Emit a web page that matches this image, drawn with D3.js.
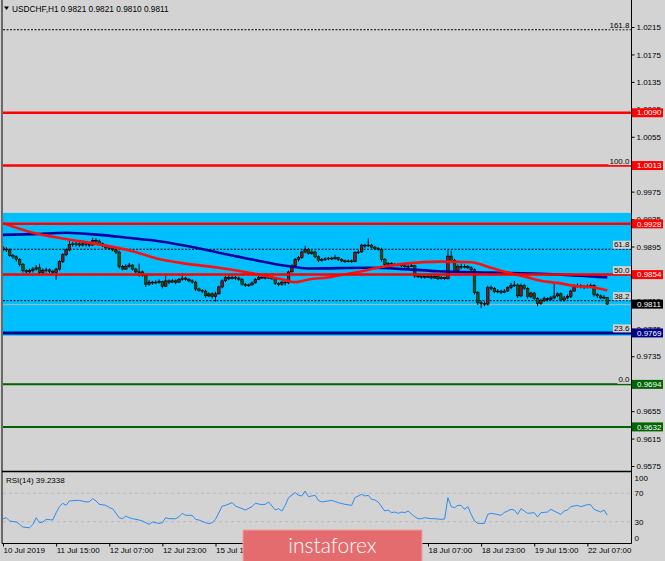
<!DOCTYPE html>
<html>
<head>
<meta charset="utf-8">
<script src="https://cdn.jsdelivr.net/npm/d3@7"></script>
<style>
	body { margin: 0; background: #d3d3d3; }
	svg { display: block; font-family: "Liberation Sans", Arial, sans-serif; }
</style>
</head>
<body>
<div id="chart"></div>
<script>

// USDCHF H1 candles, bar 0 = 10 Jul 23:00
var opens = [
	0.9893,0.9891,0.9890,0.9882,0.9880,0.9876,0.9869,0.9860,0.9858,0.9860,
	0.9862,0.9864,0.9857,0.9860,0.9861,0.9859,0.9857,0.9862,0.9873,0.9883,
	0.9890,0.9898,0.9899,0.9899,0.9897,0.9899,0.9898,0.9897,0.9904,0.9903,
	0.9899,0.9896,0.9893,0.9892,0.9890,0.9887,0.9866,0.9862,0.9866,0.9868,
	0.9862,0.9858,0.9858,0.9853,0.9840,0.9843,0.9842,0.9843,0.9844,0.9837,
	0.9845,0.9843,0.9845,0.9843,0.9847,0.9849,0.9847,0.9845,0.9843,0.9833,
	0.9831,0.9830,0.9823,0.9826,0.9822,0.9826,0.9836,0.9845,0.9850,0.9848,
	0.9850,0.9849,0.9847,0.9840,0.9838,0.9839,0.9842,0.9847,0.9850,0.9850,
	0.9849,0.9850,0.9848,0.9841,0.9840,0.9843,0.9842,0.9858,0.9867,0.9876,
	0.9879,0.9887,0.9891,0.9885,0.9887,0.9880,0.9875,0.9876,0.9877,0.9878,
	0.9877,0.9879,0.9876,0.9874,0.9873,0.9874,0.9873,0.9886,0.9887,0.9897,
	0.9896,0.9897,0.9894,0.9892,0.9891,0.9876,0.9869,0.9870,0.9869,0.9869,
	0.9868,0.9867,0.9866,0.9866,0.9867,0.9852,0.9851,0.9850,0.9851,0.9851,
	0.9849,0.9851,0.9848,0.9850,0.9848,0.9881,0.9875,0.9860,0.9866,0.9865,
	0.9866,0.9864,0.9861,0.9828,0.9813,0.9812,0.9811,0.9835,0.9834,0.9829,
	0.9830,0.9828,0.9830,0.9835,0.9838,0.9839,0.9823,0.9838,0.9834,0.9822,
	0.9827,0.9819,0.9812,0.9816,0.9819,0.9818,0.9820,0.9823,0.9826,0.9817,
	0.9820,0.9822,0.9830,0.9837,0.9838,0.9837,0.9836,0.9837,0.9838,0.9825,
	0.9823,0.9820,0.9821
];
var highs = [
	0.9896,0.9894,0.9892,0.9884,0.9882,0.9878,0.9871,0.9862,0.9863,0.9865,
	0.9868,0.9870,0.9863,0.9864,0.9863,0.9861,0.9864,0.9875,0.9885,0.9892,
	0.9905,0.9902,0.9902,0.9901,0.9902,0.9901,0.9900,0.9908,0.9907,0.9905,
	0.9901,0.9898,0.9896,0.9894,0.9892,0.9889,0.9868,0.9869,0.9871,0.9869,
	0.9864,0.9870,0.9860,0.9855,0.9846,0.9845,0.9846,0.9847,0.9845,0.9852,
	0.9847,0.9848,0.9847,0.9849,0.9853,0.9851,0.9849,0.9847,0.9845,0.9835,
	0.9833,0.9832,0.9828,0.9828,0.9829,0.9838,0.9847,0.9852,0.9853,0.9853,
	0.9852,0.9851,0.9849,0.9842,0.9841,0.9844,0.9849,0.9852,0.9853,0.9852,
	0.9853,0.9852,0.9850,0.9843,0.9845,0.9845,0.9860,0.9869,0.9878,0.9881,
	0.9889,0.9896,0.9893,0.9890,0.9889,0.9882,0.9878,0.9879,0.9880,0.9880,
	0.9883,0.9880,0.9878,0.9876,0.9876,0.9876,0.9888,0.9890,0.9899,0.9899,
	0.9907,0.9899,0.9896,0.9894,0.9893,0.9878,0.9872,0.9872,0.9871,0.9871,
	0.9870,0.9869,0.9869,0.9870,0.9868,0.9854,0.9853,0.9853,0.9854,0.9853,
	0.9853,0.9853,0.9852,0.9851,0.9890,0.9889,0.9877,0.9869,0.9870,0.9869,
	0.9868,0.9866,0.9863,0.9830,0.9816,0.9815,0.9838,0.9838,0.9836,0.9833,
	0.9832,0.9833,0.9837,0.9842,0.9845,0.9841,0.9841,0.9840,0.9836,0.9829,
	0.9829,0.9821,0.9819,0.9822,0.9821,0.9823,0.9842,0.9828,0.9828,0.9823,
	0.9825,0.9832,0.9840,0.9841,0.9840,0.9839,0.9840,0.9841,0.9840,0.9827,
	0.9825,0.9824,0.9821
];
var lows = [
	0.9888,0.9887,0.9880,0.9877,0.9873,0.9866,0.9857,0.9855,0.9856,0.9857,
	0.9860,0.9855,0.9855,0.9857,0.9856,0.9854,0.9846,0.9860,0.9871,0.9881,
	0.9888,0.9895,0.9895,0.9894,0.9895,0.9895,0.9894,0.9896,0.9900,0.9897,
	0.9894,0.9891,0.9890,0.9888,0.9884,0.9863,0.9860,0.9861,0.9864,0.9860,
	0.9856,0.9851,0.9851,0.9836,0.9838,0.9839,0.9840,0.9841,0.9834,0.9836,
	0.9840,0.9842,0.9840,0.9842,0.9845,0.9845,0.9843,0.9841,0.9830,0.9829,
	0.9827,0.9820,0.9821,0.9819,0.9815,0.9825,0.9834,0.9843,0.9846,0.9847,
	0.9846,0.9845,0.9838,0.9836,0.9836,0.9838,0.9841,0.9846,0.9848,0.9847,
	0.9848,0.9846,0.9839,0.9837,0.9838,0.9838,0.9840,0.9857,0.9865,0.9873,
	0.9877,0.9885,0.9883,0.9883,0.9878,0.9872,0.9873,0.9874,0.9875,0.9875,
	0.9876,0.9874,0.9872,0.9871,0.9872,0.9871,0.9872,0.9884,0.9886,0.9893,
	0.9894,0.9892,0.9890,0.9889,0.9873,0.9866,0.9867,0.9867,0.9867,0.9866,
	0.9865,0.9864,0.9864,0.9865,0.9849,0.9849,0.9848,0.9848,0.9849,0.9847,
	0.9848,0.9846,0.9847,0.9846,0.9847,0.9872,0.9858,0.9858,0.9862,0.9863,
	0.9862,0.9858,0.9825,0.9810,0.9805,0.9808,0.9809,0.9831,0.9827,0.9827,
	0.9826,0.9827,0.9829,0.9833,0.9836,0.9820,0.9821,0.9832,0.9819,0.9820,
	0.9817,0.9808,0.9810,0.9814,0.9815,0.9816,0.9818,0.9821,0.9815,0.9815,
	0.9818,0.9820,0.9829,0.9835,0.9834,0.9833,0.9834,0.9835,0.9822,0.9820,
	0.9818,0.9818,0.9810
];
var closes = [
	0.9891,0.9890,0.9882,0.9880,0.9876,0.9869,0.9860,0.9858,0.9860,0.9862,
	0.9864,0.9857,0.9860,0.9861,0.9859,0.9857,0.9862,0.9873,0.9883,0.9890,
	0.9898,0.9899,0.9899,0.9897,0.9899,0.9898,0.9897,0.9904,0.9903,0.9899,
	0.9896,0.9893,0.9892,0.9890,0.9887,0.9866,0.9862,0.9866,0.9868,0.9862,
	0.9858,0.9858,0.9853,0.9840,0.9843,0.9842,0.9843,0.9844,0.9837,0.9845,
	0.9843,0.9845,0.9843,0.9847,0.9849,0.9847,0.9845,0.9843,0.9833,0.9831,
	0.9830,0.9823,0.9826,0.9822,0.9826,0.9836,0.9845,0.9850,0.9848,0.9850,
	0.9849,0.9847,0.9840,0.9838,0.9839,0.9842,0.9847,0.9850,0.9850,0.9849,
	0.9850,0.9848,0.9841,0.9840,0.9843,0.9842,0.9858,0.9867,0.9876,0.9879,
	0.9887,0.9891,0.9885,0.9887,0.9880,0.9875,0.9876,0.9877,0.9878,0.9877,
	0.9879,0.9876,0.9874,0.9873,0.9874,0.9873,0.9886,0.9887,0.9897,0.9896,
	0.9897,0.9894,0.9892,0.9891,0.9876,0.9869,0.9870,0.9869,0.9869,0.9868,
	0.9867,0.9866,0.9866,0.9867,0.9852,0.9851,0.9850,0.9851,0.9851,0.9849,
	0.9851,0.9848,0.9850,0.9848,0.9881,0.9875,0.9860,0.9866,0.9865,0.9866,
	0.9864,0.9861,0.9828,0.9813,0.9812,0.9811,0.9835,0.9834,0.9829,0.9830,
	0.9828,0.9830,0.9835,0.9838,0.9839,0.9823,0.9838,0.9834,0.9822,0.9827,
	0.9819,0.9812,0.9816,0.9819,0.9818,0.9820,0.9823,0.9826,0.9817,0.9820,
	0.9822,0.9830,0.9837,0.9838,0.9837,0.9836,0.9837,0.9838,0.9825,0.9823,
	0.9820,0.9821,0.9811
];

// moving averages, read at some bars
var maFastBars = [0, 9, 19, 29, 39, 46, 55, 65, 75, 85, 88, 92, 98, 106, 114, 121, 132, 141, 147, 152, 158, 162, 167, 173, 177, 182];
var maFastValues = [0.9929, 0.9915, 0.9906, 0.9898, 0.9888, 0.9878, 0.9870, 0.9864, 0.9856, 0.9846, 0.9843, 0.9847, 0.9850, 0.9857, 0.9865, 0.9870, 0.9873, 0.9872, 0.9864, 0.9857, 0.9850, 0.9845, 0.9842, 0.9837, 0.9836, 0.9831];
var maSlowBars = [0, 9, 19, 29, 39, 45, 55, 65, 75, 85, 92, 110, 121, 131, 147, 164, 175, 182];
var maSlowValues = [0.9912, 0.9913, 0.9915, 0.9912, 0.9907, 0.9904, 0.9896, 0.9886, 0.9876, 0.9867, 0.9863, 0.9864, 0.9862, 0.9859, 0.9857, 0.9855, 0.9852, 0.9850];

// RSI(14)
var rsiBars = [
	0,1,2,4,5,6,8,9,10,11, 12,13,15,16,17,18,19,20,22,23,
	25,26,27,28,29,31,32,33,35,36, 37,38,39,41,42,44,45,47,48,49,
	50,52,53,54,55,57,58,59,61,62, 63,64,66,67,69,70,72,73,75,76,
	78,79,80,82,83,84,85,86,88,89, 90,91,92,94,95,96,99,101,103,105,
	106,107,108,109,110,111,112,113,115,116, 117,118,119,120,121,122,124,125,126,127,
	129,130,132,133,134,135,136,137,138,139, 140,141,142,143,145,146,147,148,150,151,
	152,153,154,155,156,157,158,160,161,162, 164,165,166,168,169,170,171,173,174,176,
	177,178,180,181,182
];
var rsiValues = [
	34.2,35.6,31.0,29.5,26.2,22.5,21.5,26.0,35.6,28.6, 29.5,33.3,32.4,42.7,51.2,55.9,53.0,59.2,60.0,60.0,
	57.8,58.2,62.5,59.2,54.5,53.0,49.8,48.4,35.6,34.2, 38.0,35.6,34.2,32.4,31.0,26.2,29.5,27.6,28.6,35.6,
	34.2,34.2,37.0,41.8,39.0,39.0,33.3,32.4,28.6,27.2, 28.6,33.3,52.0,53.0,56.8,52.0,48.4,46.5,51.2,55.9,
	54.0,54.5,57.8,46.5,48.4,45.0,53.0,63.9,71.0,67.2, 66.2,73.3,65.3,67.2,60.0,57.8,60.0,56.8,54.5,53.0,
	63.9,66.2,68.6,66.2,67.2,61.5,60.6,57.8,45.0,46.5, 42.7,43.6,41.8,43.6,42.7,45.0,37.0,34.2,34.2,35.6,
	34.2,34.2,33.3,33.8,63.9,51.2,49.8,53.0,53.0,47.4, 51.2,40.4,31.0,27.6,27.6,40.4,41.8,41.0,39.0,43.0,
	45.0,47.4,46.5,40.4,48.4,45.0,41.8,42.7,36.6,42.7, 43.6,47.4,45.0,40.4,45.0,46.5,51.2,53.0,51.2,54.0,
	54.0,47.4,43.6,46.5,39.2
];

var timeBars = [0, 16, 32, 48, 64, 80, 96, 112, 128, 144, 160, 176];
var timeLabels = ["10 Jul 2019", "11 Jul 15:00", "12 Jul 07:00", "12 Jul 23:00", "15 Jul 15:00", "16 Jul 07:00",
	"16 Jul 23:00", "17 Jul 15:00", "18 Jul 07:00", "18 Jul 23:00", "19 Jul 15:00", "22 Jul 07:00"];

var priceTicks = [1.0215, 1.0175, 1.0135, 1.0095, 1.0055, 1.0015, 0.9975, 0.9935, 0.9895,
	0.9855, 0.9815, 0.9775, 0.9735, 0.9695, 0.9655, 0.9615, 0.9575];
var rsiTicks = [100, 70, 30, 0];
var rsiLevels = [70, 30];

var levelPrices = [1.0090, 1.0013, 0.9928, 0.9854, 0.9769, 0.9694, 0.9632];
var levelKinds = ["resistance", "resistance", "resistance", "resistance", "pivot", "support", "support"];

var fibLabels = ["161.8", "100.0", "61.8", "50.0", "38.2", "23.6", "0.0"];
var fibPrices = [1.0211, 1.0013, 0.9891, 0.9854, 0.9816, 0.9769, 0.9694];

var bandRange = [0.9765, 0.9944];
var lastPrice = 0.9811;
var headerText = "USDCHF,H1  0.9821 0.9821 0.9810 0.9811";
var rsiText = "RSI(14) 39.2338";


var levelStyle = {
	resistance: {color: "#ff0000", width: 2.5},
	pivot: {color: "#00008b", width: 3},
	support: {color: "#006400", width: 2}
};

var W = 665, H = 561,
	left = 3, right = 631.5,
	mainBottom = 471.5, rsiTop = 472, rsiBottom = 543.5;

var x = d3.scaleLinear().domain([0, closes.length - 1]).range([3, 607.3]);
var y = d3.scaleLinear().domain([0.9575, 1.0215]).range([466, 27]);
var yRsi = d3.scaleLinear().domain([0, 100]).range([543, 472]);

var svg = d3.select("#chart").append("svg")
	.attr("width", W)
	.attr("height", H);

svg.append("rect").attr("width", W).attr("height", H).attr("fill", "#d3d3d3");

svg.append("clipPath").attr("id", "clip-main")
	.append("rect").attr("x", left).attr("y", 0).attr("width", right - left).attr("height", mainBottom);
svg.append("clipPath").attr("id", "clip-rsi")
	.append("rect").attr("x", left).attr("y", rsiTop).attr("width", right - left).attr("height", rsiBottom - rsiTop);

var main = svg.append("g").attr("clip-path", "url(#clip-main)");

// cyan zone
main.append("rect")
	.attr("x", left)
	.attr("width", right - left)
	.attr("y", y(bandRange[1]))
	.attr("height", y(bandRange[0]) - y(bandRange[1]))
	.attr("fill", "#00bfff");

// fibo dotted levels
main.selectAll(".fib")
	.data(fibPrices)
	.enter().append("line")
		.attr("x1", left).attr("x2", right)
		.attr("y1", function(d) { return y(d); })
		.attr("y2", function(d) { return y(d); })
		.attr("stroke", "#000")
		.attr("stroke-width", 1)
		.attr("stroke-dasharray", "2,1.5");

// bid line
main.append("line")
	.attr("x1", left).attr("x2", right)
	.attr("y1", y(lastPrice) + 0.5).attr("y2", y(lastPrice) + 0.5)
	.attr("stroke", "#b4b4b4");

// candles
var candle = main.selectAll(".candle")
	.data(closes)
	.enter().append("g");

candle.append("line")
	.attr("x1", function(d, i) { return x(i); })
	.attr("x2", function(d, i) { return x(i); })
	.attr("y1", function(d, i) { return y(highs[i]); })
	.attr("y2", function(d, i) { return y(lows[i]); })
	.attr("stroke", "#000")
	.attr("stroke-width", 1);

candle.append("rect")
	.attr("x", function(d, i) { return x(i) - 1.3; })
	.attr("width", 2.6)
	.attr("y", function(d, i) { return y(Math.max(opens[i], d)); })
	.attr("height", function(d, i) { return Math.max(0.8, Math.abs(y(opens[i]) - y(d))); })
	.attr("fill", function(d, i) { return d >= opens[i] ? "#8e1212" : "#075a16"; })
	.attr("stroke", "#000")
	.attr("stroke-width", 0.6);

// moving averages
var maLine = d3.line()
	.x(function(d) { return x(d[0]); })
	.y(function(d) { return y(d[1]); })
	.curve(d3.curveMonotoneX);

main.append("path")
	.attr("d", maLine(d3.zip(maSlowBars, maSlowValues)))
	.attr("fill", "none")
	.attr("stroke", "#0000a0")
	.attr("stroke-width", 2.6);

main.append("path")
	.attr("d", maLine(d3.zip(maFastBars, maFastValues)))
	.attr("fill", "none")
	.attr("stroke", "#ff1010")
	.attr("stroke-width", 2.6);

// horizontal levels, drawn over the chart
main.selectAll(".level")
	.data(levelPrices)
	.enter().append("line")
		.attr("x1", left).attr("x2", right)
		.attr("y1", function(d) { return y(d); })
		.attr("y2", function(d) { return y(d); })
		.attr("stroke", function(d, i) { return levelStyle[levelKinds[i]].color; })
		.attr("stroke-width", function(d, i) { return levelStyle[levelKinds[i]].width; });

// fibo labels
fibPrices.forEach(function(p, i) {
	var g = svg.append("g");
	var t = g.append("text")
		.attr("x", 629.5)
		.attr("y", y(p) - 2)
		.attr("text-anchor", "end")
		.attr("font-size", 8)
		.attr("fill", "#000")
		.text(fibLabels[i]);
	var b = t.node().getBBox();
	g.insert("rect", "text")
		.attr("x", b.x - 1).attr("y", b.y + 0.5)
		.attr("width", b.width + 2).attr("height", b.height - 1)
		.attr("fill", "#d3d3d3");
});

// rsi panel
var rsi = svg.append("g").attr("clip-path", "url(#clip-rsi)");

rsi.selectAll(".rsi-level")
	.data(rsiLevels)
	.enter().append("line")
		.attr("x1", left).attr("x2", right)
		.attr("y1", function(d) { return yRsi(d); })
		.attr("y2", function(d) { return yRsi(d); })
		.attr("stroke", "#b9b9b9")
		.attr("stroke-dasharray", "3,3");

rsi.append("path")
	.attr("d", d3.line()
		.x(function(d) { return x(d[0]); })
		.y(function(d) { return yRsi(d[1]); })(d3.zip(rsiBars, rsiValues)))
	.attr("fill", "none")
	.attr("stroke", "#2a8cf0")
	.attr("stroke-width", 1);

// frame
var frame = svg.append("g").attr("stroke", "#000").attr("fill", "none");
frame.append("line").attr("x1", 2).attr("x2", 2).attr("y1", 0).attr("y2", rsiBottom);
frame.append("line").attr("x1", right).attr("x2", right).attr("y1", 0).attr("y2", rsiBottom);
frame.append("line").attr("x1", 2).attr("x2", right).attr("y1", mainBottom).attr("y2", mainBottom).attr("stroke-width", 1.5);
frame.append("line").attr("x1", 2).attr("x2", right).attr("y1", rsiBottom).attr("y2", rsiBottom);

// axes
var fontFamily = "'Liberation Sans', Arial, sans-serif";

svg.append("g")
	.attr("transform", "translate(" + right + ",0)")
	.call(d3.axisRight(y).tickValues(priceTicks).tickSize(3).tickPadding(2).tickFormat(d3.format(".4f")))
	.attr("font-size", 8)
	.attr("font-family", fontFamily)
	.call(function(g) { g.select(".domain").remove(); });

svg.append("g")
	.attr("transform", "translate(" + right + ",0)")
	.call(d3.axisRight(yRsi).tickValues(rsiTicks).tickSize(0).tickPadding(3))
	.attr("font-size", 8)
	.attr("font-family", fontFamily)
	.call(function(g) {
		g.select(".domain").remove();
		g.selectAll("text").attr("y", function(d) {
			return Math.min(Math.max(yRsi(d), 478), 538) - yRsi(d);
		});
	});

svg.append("g")
	.attr("transform", "translate(0," + rsiBottom + ")")
	.call(d3.axisBottom(x).tickValues(timeBars).tickSize(3).tickPadding(1)
		.tickFormat(function(d, i) { return timeLabels[i]; }))
	.attr("font-size", 8)
	.attr("font-family", fontFamily)
	.call(function(g) {
		g.select(".domain").remove();
		g.selectAll("text").attr("text-anchor", "start").attr("x", 0);
	});

// price tags on the axis
var tags = levelPrices.map(function(p, i) { return {price: p, color: levelStyle[levelKinds[i]].color}; });
tags.push({price: lastPrice, color: "#000"});

var tag = svg.selectAll(".tag")
	.data(tags)
	.enter().append("g")
		.attr("transform", function(d) { return "translate(632," + y(d.price) + ")"; });

tag.append("rect")
	.attr("x", 0).attr("y", -4.5)
	.attr("width", 31).attr("height", 9)
	.attr("fill", function(d) { return d.color; });

tag.append("text")
	.attr("x", 5).attr("dy", "0.34em")
	.attr("font-size", 8)
	.attr("fill", "#fff")
	.text(function(d) { return d3.format(".4f")(d.price); });

// header and indicator name
svg.append("path").attr("d", "M4,6.5 L9,6.5 L6.5,10 Z").attr("fill", "#000");
svg.append("text").attr("x", 12).attr("y", 12).attr("font-size", 8.3).text(headerText);
svg.append("text").attr("x", 6).attr("y", 483).attr("font-size", 8).text(rsiText);

// banner
svg.append("rect")
	.attr("x", 243).attr("y", 530)
	.attr("width", 179).attr("height", 32)
	.attr("fill", "#e46b6e")
	.attr("stroke", "#eea0a0")
	.attr("stroke-width", 1);

svg.append("text")
	.attr("x", 332.5).attr("y", 553)
	.attr("text-anchor", "middle")
	.attr("font-family", "Lato, 'Open Sans', sans-serif")
	.attr("font-weight", 300)
	.attr("font-size", 21)
	.attr("fill", "#fff")
	.text("instaforex");

</script>
</body>
</html>
